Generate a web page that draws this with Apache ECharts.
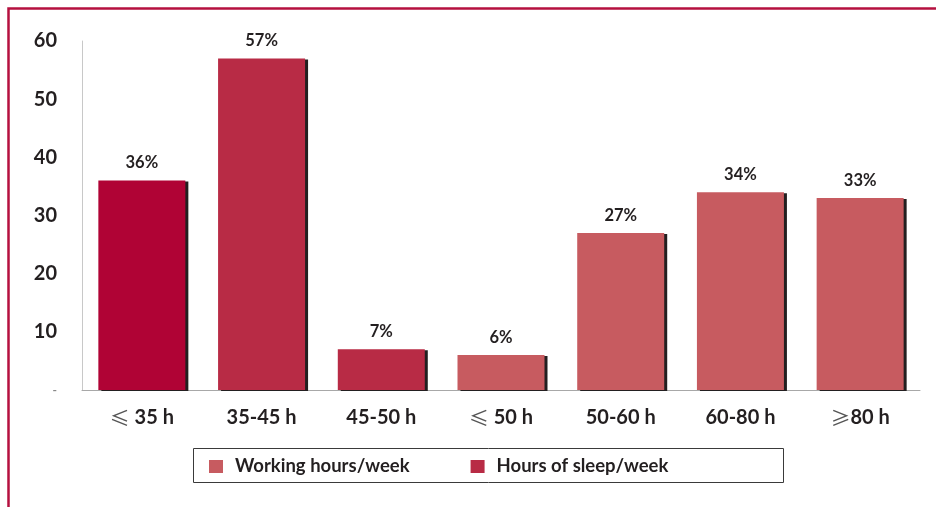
<!DOCTYPE html>
<html>
<head>
<meta charset="utf-8">
<script src="https://cdn.jsdelivr.net/npm/echarts@6/dist/echarts.min.js"></script>
<style>
html,body{margin:0;padding:0;background:#fff;}
#c{width:936px;height:507px;}
</style>
</head>
<body>
<div id="c"></div>
<script>
var categories = ['{s|≤} 35 h', '35-45 h', '45-50 h', '{s|≤} 50 h', '50-60 h', '60-80 h', '{s|≥}80 h'];
var sleepValues = [36, 57, 7, null, null, null, null];
var workValues = [null, null, null, 6, 27, 34, 33];
var yTicks = [0, 10, 20, 30, 40, 50, 60];
var seriesNames = ['Working hours/week', 'Hours of sleep/week'];

var FONT = 'Lato';
var shadow = {shadowColor: '#231f20', shadowOffsetX: 3, shadowOffsetY: 1, shadowBlur: 0};

var sleepData = sleepValues.map(function (v, i) {
  if (i === 0) return {value: v, itemStyle: {color: '#b00335'}};
  return v;
});

var chart = echarts.init(document.getElementById('c'));
chart.setOption({
  animation: false,
  backgroundColor: '#fff',
  grid: {left: 82, right: 16, top: 41, bottom: 117},
  legend: {
    left: 204, top: 452,
    itemWidth: 14, itemHeight: 13, itemGap: 61,
    icon: 'rect',
    data: seriesNames,
    textStyle: {fontFamily: FONT, fontWeight: 'bold', fontSize: 18.5, color: '#231f20', padding: [0, 0, 0, 7]}
  },
  graphic: [
    {type: 'polyline', shape: {points: [[8.5, 507], [8.5, 8.5], [936, 8.5]]}, style: {stroke: '#b5103f', lineWidth: 2.5, fill: null}, silent: true},
    {type: 'rect', shape: {x: 193.5, y: 448.5, width: 590, height: 34}, style: {stroke: '#3a3a3a', lineWidth: 1, fill: null}, silent: true, z: -1}
  ],
  xAxis: {
    type: 'category',
    data: categories,
    axisLine: {lineStyle: {color: '#a8a8a8', width: 1}},
    axisTick: {show: false},
    axisLabel: {
      margin: 18,
      fontFamily: FONT, fontWeight: 'bold', fontSize: 20, color: '#231f20',
      rich: {s: {fontFamily: 'Noto Sans CJK SC', fontWeight: 'normal', fontSize: 20, color: '#555'}}
    }
  },
  yAxis: {
    type: 'value', min: 0, max: 60, interval: 10,
    splitLine: {show: false},
    axisTick: {show: false},
    axisLine: {show: true, lineStyle: {color: '#c8c8c8', width: 1}},
    axisLabel: {
      margin: 25,
      fontFamily: FONT, fontWeight: 'bold', fontSize: 20, color: '#231f20',
      formatter: function (v) { return v === 0 ? '{d|-}' : String(v); },
      rich: {d: {fontFamily: FONT, fontSize: 12, color: '#888'}}
    }
  },
  series: [
    {
      name: seriesNames[0], type: 'bar', stack: 'all', barWidth: 87,
      data: workValues,
      itemStyle: Object.assign({color: '#c75b60'}, shadow),
      label: {show: true, position: 'top', distance: 9, formatter: '{c}%', fontFamily: FONT, fontWeight: 'bold', fontSize: 16.5, color: '#231f20'}
    },
    {
      name: seriesNames[1], type: 'bar', stack: 'all', barWidth: 87,
      data: sleepData,
      itemStyle: Object.assign({color: '#b82b45'}, shadow),
      label: {show: true, position: 'top', distance: 9, formatter: '{c}%', fontFamily: FONT, fontWeight: 'bold', fontSize: 16.5, color: '#231f20'}
    }
  ]
});
</script>
</body>
</html>
